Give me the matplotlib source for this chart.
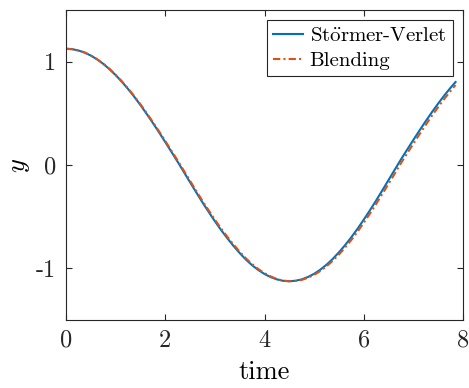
import numpy as np
import matplotlib
matplotlib.use("Agg")
import matplotlib.pyplot as plt

plt.rcParams["font.family"] = ["cmr10", "DejaVu Serif"]
plt.rcParams["mathtext.fontset"] = "cm"
plt.rcParams["axes.formatter.use_mathtext"] = True

# time samples
time = [0.0, 0.125, 0.25, 0.375, 0.5, 0.625, 0.75, 0.875, 1.0, 1.125,
        1.25, 1.375, 1.5, 1.625, 1.75, 1.875, 2.0, 2.125, 2.25, 2.375,
        2.5, 2.625, 2.75, 2.875, 3.0, 3.125, 3.25, 3.375, 3.5, 3.625,
        3.75, 3.875, 4.0, 4.125, 4.25, 4.375, 4.5, 4.625, 4.75, 4.875,
        5.0, 5.125, 5.25, 5.375, 5.5, 5.625, 5.75, 5.875, 6.0, 6.125,
        6.25, 6.375, 6.5, 6.625, 6.75, 6.875, 7.0, 7.125, 7.25, 7.375,
        7.5, 7.625, 7.75, 7.85]

# Stormer-Verlet solution
y_verlet = [1.125, 1.121, 1.108, 1.088, 1.059, 1.023, 0.979, 0.928, 0.870,
            0.806, 0.736, 0.661, 0.580, 0.495, 0.407, 0.316, 0.222, 0.127,
            0.031, -0.068, -0.167, -0.265, -0.362, -0.454, -0.544, -0.629,
            -0.708, -0.783, -0.852, -0.915, -0.970, -1.016, -1.055, -1.085,
            -1.107, -1.121, -1.125, -1.120, -1.107, -1.084, -1.053, -1.013,
            -0.965, -0.909, -0.845, -0.775, -0.699, -0.617, -0.529, -0.438,
            -0.343, -0.245, -0.145, -0.045, 0.054, 0.149, 0.243, 0.335,
            0.425, 0.512, 0.595, 0.674, 0.748, 0.803]

# blending solution (lags slightly behind)
y_blend = [1.125, 1.121, 1.108, 1.089, 1.060, 1.024, 0.981, 0.931, 0.873,
           0.810, 0.741, 0.667, 0.587, 0.503, 0.416, 0.326, 0.233, 0.138,
           0.043, -0.055, -0.153, -0.251, -0.347, -0.439, -0.529, -0.615,
           -0.694, -0.769, -0.839, -0.903, -0.959, -1.007, -1.047, -1.079,
           -1.103, -1.119, -1.125, -1.122, -1.112, -1.091, -1.063, -1.026,
           -0.980, -0.927, -0.866, -0.798, -0.725, -0.645, -0.559, -0.470,
           -0.377, -0.280, -0.182, -0.083, 0.018, 0.113, 0.206, 0.299,
           0.389, 0.477, 0.561, 0.641, 0.717, 0.774]

xticks = [0, 2, 4, 6, 8]
yticks = [-1, 0, 1]
ytick_labels = ["-1", "0", "1"]

fig = plt.figure(figsize=(4.69, 3.88), dpi=100)
ax = fig.add_axes([66 / 469, 68 / 388, 397 / 469, 310 / 388])

ax.plot(time, y_verlet, color="#0072BD", lw=1.5,
        label=r"St$\ddot{\mathrm{o}}$rmer-Verlet")
ax.plot(time, y_blend, color="#D95319", lw=1.5, ls=(0, (3.5, 1.5, 1, 1.5)),
        label="Blending")

ax.set_xlim(0, 8)
ax.set_ylim(-1.5, 1.5)
ax.set_xticks(xticks)
ax.set_xticklabels([str(t) for t in xticks])
ax.set_yticks(yticks)
ax.set_yticklabels(ytick_labels)

ax.tick_params(direction="in", length=4, width=0.8, colors="0.15",
               labelsize=17.5, top=True, right=True, pad=7)
for s in ax.spines.values():
    s.set_color("0.15")
    s.set_linewidth(0.8)

ax.set_xlabel("time", fontsize=19, labelpad=6)
ax.set_ylabel(r"$y$", fontsize=19, labelpad=3)

leg = ax.legend(loc="upper right", fontsize=15, fancybox=False,
                edgecolor="0.15", framealpha=1, handlelength=1.45,
                handletextpad=0.3, borderpad=0.3, labelspacing=0.3,
                borderaxespad=0.5)
leg.get_frame().set_linewidth(0.8)

fig.savefig("out.png", dpi=100)
